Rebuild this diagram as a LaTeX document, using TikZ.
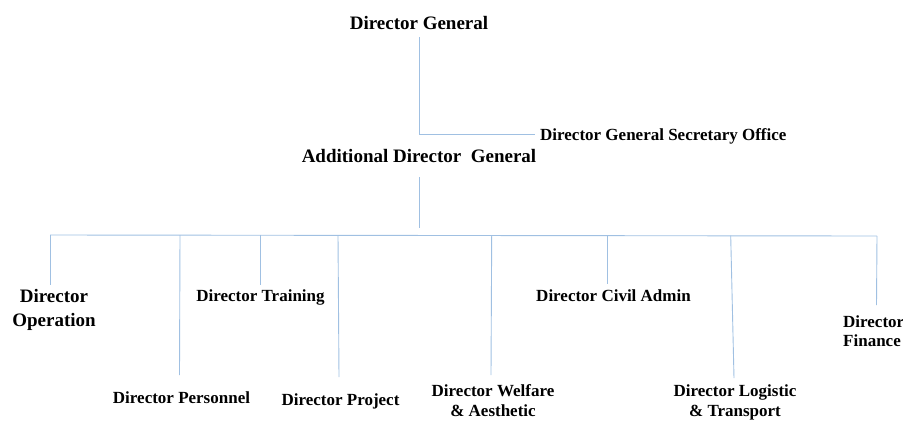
\documentclass[tikz,border=0pt]{standalone}
\usepackage{fontspec}
\setmainfont{Liberation Serif}
\definecolor{linec}{RGB}{160,192,226}
\begin{document}
\begin{tikzpicture}[x=1pt,y=-1pt,
  conn/.style={draw=linec, line width=0.9pt},
  big/.style={font=\fontsize{19}{24}\selectfont\bfseries, inner sep=0pt, anchor=base, align=center},
  med/.style={font=\fontsize{17}{21}\selectfont\bfseries, inner sep=0pt, anchor=base, align=center}]
\useasboundingbox (0,0) rectangle (903,421);
\clip (0,0) rectangle (903,421);
% texts (multi-line nodes: base = last line's baseline)
\node[big] (dg) at (419,29) {Director General};
\node[med, anchor=base west] (sec) at (540,140) {Director General Secretary Office};
\node[big] (adg) at (419,162.5) {Additional Director\ \ General};
\node[big] (op) at (54,326.5) {Director\\Operation};
\node[med] (pers) at (181.5,403) {Director Personnel};
\node[med] (trn) at (260.5,301.5) {Director Training};
\node[med] (proj) at (340.5,405.5) {Director Project};
\node[med] (wel) at (493,416.5) {Director Welfare\\[-1pt]\& Aesthetic};
\node[med] (civ) at (613.5,301.5) {Director Civil Admin};
\node[med] (log) at (735,416) {Director Logistic\\[-1pt]\& Transport};
\node[med, anchor=base west, align=left] (fin) at (843,346.5) {Director\\[-2pt]Finance};
% connector points
\coordinate (dgA) at (419,37);
\coordinate (dgB) at (419,134);
\coordinate (secA) at (535,134);
\coordinate (adgA) at (419,177);
\coordinate (adgB) at (419,228);
\coordinate (busL) at (50,235);
\coordinate (busR) at (877,236);
\coordinate (opT) at (50,235);   \coordinate (opB) at (50,285);
\coordinate (persT) at (180,235); \coordinate (persB) at (179.5,375);
\coordinate (trnT) at (260.7,235); \coordinate (trnB) at (260.7,285);
\coordinate (projT) at (338,235); \coordinate (projB) at (339,377);
\coordinate (welT) at (491.7,235.5); \coordinate (welB) at (491,375);
\coordinate (civT) at (607,235.5); \coordinate (civB) at (607,284);
\coordinate (logT) at (730.7,235.5); \coordinate (logB) at (734,378);
\coordinate (finT) at (877,236); \coordinate (finB) at (876.5,305);
% connectors
\draw[conn] (dgA) -- (dgB) -- (secA);
\draw[conn] (adgA) -- (adgB);
\draw[conn] (busL) -- (busR);
\draw[conn] (opT) -- (opB);
\draw[conn] (persT) -- (persB);
\draw[conn] (trnT) -- (trnB);
\draw[conn] (projT) -- (projB);
\draw[conn] (welT) -- (welB);
\draw[conn] (civT) -- (civB);
\draw[conn] (logT) -- (logB);
\draw[conn] (finT) -- (finB);
\end{tikzpicture}
\end{document}
